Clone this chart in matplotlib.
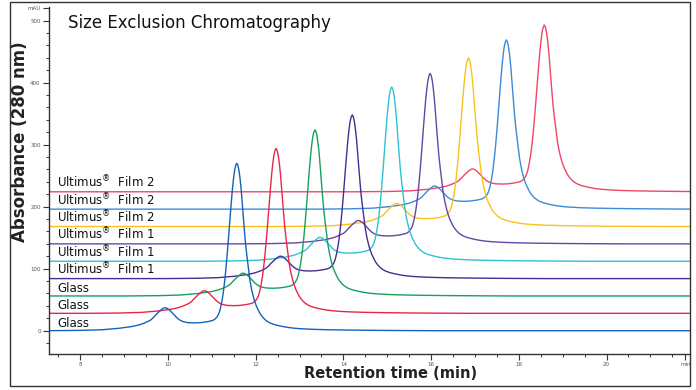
import matplotlib
matplotlib.use("Agg")
import matplotlib.pyplot as plt
import numpy as np
from matplotlib.patches import Rectangle

# ---- data ----
# shape of the bottom chromatogram (Glass, blue): retention time (min) / absorbance (mAU)
base_time = [0.0, 7.25, 8.0, 8.5, 8.9, 9.2, 9.35, 9.45, 9.53, 9.6, 9.65, 9.7, 9.75, 9.8,
             9.85, 9.9, 9.93, 9.965, 10.0, 10.04, 10.08, 10.12, 10.16, 10.2, 10.25, 10.3,
             10.35, 10.45, 10.6, 10.75, 10.9, 11.02, 11.07, 11.117, 11.142, 11.167, 11.192,
             11.217, 11.242, 11.267, 11.292, 11.317, 11.342, 11.367, 11.392, 11.417, 11.442,
             11.467, 11.492, 11.517, 11.542, 11.567, 11.592, 11.617, 11.642, 11.667, 11.692,
             11.717, 11.742, 11.767, 11.80, 11.83, 11.867, 11.905, 11.945, 11.98, 12.017,
             12.06, 12.10, 12.15, 12.217, 12.27, 12.33, 12.42, 12.52, 12.61, 12.71, 12.85,
             13.02, 13.3, 13.6, 14.0, 14.6, 15.3, 16.0, 24.0]
base_signal = [0.0, 0.0, 0.5, 1.5, 4.0, 7.0, 9.5, 12.0, 14.5, 17.0, 20.0, 24.0, 27.5, 31.0,
               34.0, 36.5, 37.0, 36.5, 35.0, 33.0, 30.0, 27.0, 24.0, 21.0, 18.0, 16.0,
               14.5, 13.0, 12.5, 13.0, 14.5, 16.5, 18.6, 22.0, 25.0, 29.0, 35.0,
               43.0, 53.0, 65.0, 80.0, 97.0, 117.0, 138.0, 161.0, 184.0, 206.0,
               227.0, 244.0, 258.0, 266.0, 270.0, 267.0, 259.0, 246.0, 229.0, 207.0,
               184.0, 162.0, 141.0, 120.0, 103.0, 82.0, 67.0, 55.0, 46.5, 39.5,
               33.0, 27.5, 22.5, 17.5, 14.8, 12.3, 10.0, 8.2, 6.8, 5.5, 4.2,
               3.2, 2.2, 1.6, 1.1, 0.6, 0.25, 0.0, 0.0]

trace_labels = ["Glass", "Glass", "Glass",
                "Ultimus$^{\\circledR}$  Film 1", "Ultimus$^{\\circledR}$  Film 1",
                "Ultimus$^{\\circledR}$  Film 1",
                "Ultimus$^{\\circledR}$  Film 2", "Ultimus$^{\\circledR}$  Film 2",
                "Ultimus$^{\\circledR}$  Film 2"]
peak_time = [11.567, 12.463, 13.35, 14.2, 15.10, 15.975, 16.85, 17.715, 18.58]
peak_height = [270, 266, 268, 264, 281, 275, 272, 273, 269]
trace_offset = [0, 28, 56, 84, 112, 140, 168, 196, 224]
trace_colors = ["#1263b8", "#e8264b", "#17a05e", "#4b2b90", "#2fc2d4",
                "#6646a6", "#f9c21b", "#3b8bd8", "#ef4767"]

x_major = [8, 10, 12, 14, 16, 18, 20, 21.8]
x_major_labels = ["8", "10", "12", "14", "16", "18", "20", "min"]
y_major = [0, 100, 200, 300, 400, 500, 521]
y_major_labels = ["0", "100", "200", "300", "400", "500", "mAU"]

# ---- figure ----
W, H = 696, 390
fig = plt.figure(figsize=(W / 100, H / 100), dpi=100)
ax = fig.add_axes([49 / W, 1 - 354 / H, (690 - 49) / W, (354 - 7) / H])

bt = np.array(base_time)
bs = np.array(base_signal)
for i in reversed(range(len(peak_time))):
    shift = peak_time[i] - peak_time[0]
    scale = peak_height[i] / peak_height[0]
    ax.plot(bt + shift, trace_offset[i] + bs * scale, color=trace_colors[i], lw=1.0,
            solid_joinstyle="round", solid_capstyle="round")
    ax.text(7.469, trace_offset[i] + 6.5, trace_labels[i], fontsize=8.5, ha="left",
            va="baseline", color="#111111")

ax.set_xlim(7.286, 21.904)
ax.set_ylim(-37.6, 522)

ax.set_xticks(x_major)
ax.set_xticklabels(x_major_labels)
ax.set_xticks(np.arange(7.5, 21.8, 0.5), minor=True)
ax.set_yticks(y_major)
ax.set_yticklabels(y_major_labels)
ax.set_yticks(np.arange(-20, 521, 20), minor=True)

ax.tick_params(which="major", length=4, width=0.8, color="#333333", labelsize=4,
               labelcolor="#555555", pad=2)
ax.tick_params(which="minor", length=2.5, width=0.7, color="#333333")
for s in ["top", "right"]:
    ax.spines[s].set_visible(False)
for s in ["left", "bottom"]:
    ax.spines[s].set_color("#333333")
    ax.spines[s].set_linewidth(1.0)

fig.add_artist(Rectangle((10 / W, 1 - 386 / H), (690 - 10) / W, (386 - 1.5) / H,
                         transform=fig.transFigure, fill=False, ec="#333333", lw=1.0))

fig.text(68 / W, 1 - 23 / H, "Size Exclusion Chromatography", fontsize=12,
         ha="left", va="center", color="#111111")
fig.text(20 / W, 1 - 142 / H, "Absorbance (280 nm)", rotation=90, fontsize=12,
         fontweight="bold", ha="center", va="center", color="#222222")
fig.text(391 / W, 1 - 374 / H, "Retention time (min)", fontsize=10.5,
         fontweight="bold", ha="center", va="center", color="#222222")

fig.savefig("out.png", dpi=100)
